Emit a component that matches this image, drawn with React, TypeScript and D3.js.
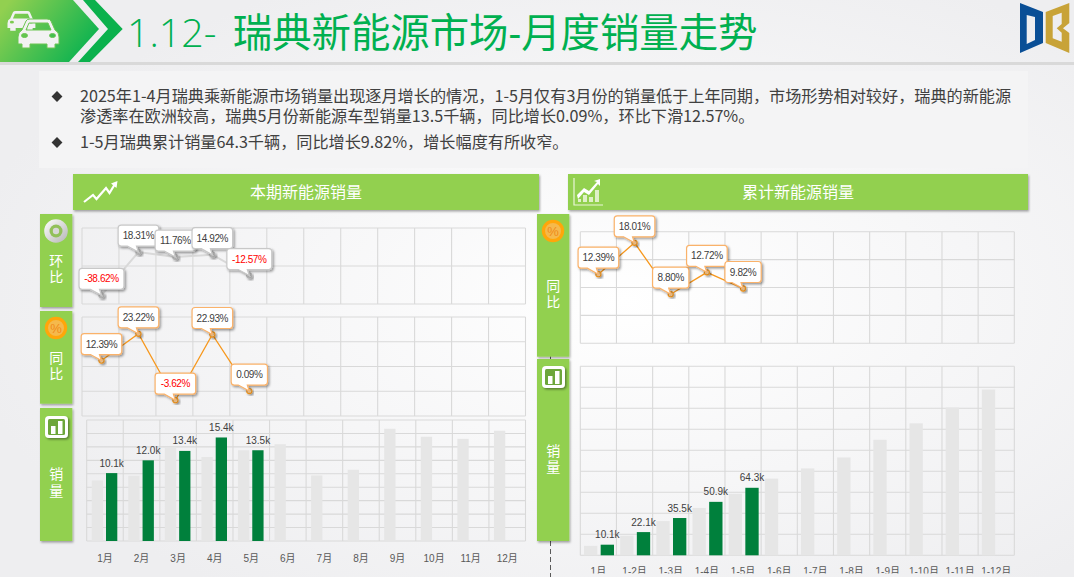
import React, { useRef, useEffect } from "react";
import * as d3 from "d3";

// monthly chart
const months = ["1月", "2月", "3月", "4月", "5月", "6月", "7月", "8月", "9月", "10月", "11月", "12月"];
const salesPrev = [9.0, 9.7, 13.9, 12.5, 13.5, 14.4, 9.75, 10.6, 16.7, 15.5, 15.2, 16.4];
const salesCurr = [10.1, 12.0, 13.4, 15.4, 13.5];
const momValues = [-38.62, 18.31, 11.76, 14.92, -12.57];
const yoyValues = [12.39, 23.22, -3.62, 22.93, 0.09];

// cumulative chart
const cumMonths = ["1月", "1-2月", "1-3月", "1-4月", "1-5月", "1-6月", "1-7月", "1-8月", "1-9月", "1-10月", "1-11月", "1-12月"];
const cumPrev = [9.0, 18.7, 32.6, 45.1, 58.6, 73.0, 82.7, 93.2, 110, 125.7, 140.7, 157.9];
const cumCurr = [10.1, 22.1, 35.5, 50.9, 64.3];
const cumYoyValues = [12.39, 18.01, 8.8, 12.72, 9.82];

const titleNumber = "1.12- ";
const titleText = "瑞典新能源市场-月度销量走势";
const bodyLines = [
  "2025年1-4月瑞典乘新能源市场销量出现逐月增长的情况，1-5月仅有3月份的销量低于上年同期，市场形势相对较好，瑞典的新能源",
  "渗透率在欧洲较高，瑞典5月份新能源车型销量13.5千辆，同比增长0.09%，环比下滑12.57%。",
  "1-5月瑞典累计销量64.3千辆，同比增长9.82%，增长幅度有所收窄。",
];

const FONT = "'Liberation Sans', 'Noto Sans CJK SC', sans-serif";
const CJK = "'Noto Sans CJK SC', sans-serif";
const GREEN = "#92d050";
const ORANGE = "#f7981d";
const GRID = "#d9d9d9";

type Sel = d3.Selection<any, any, any, any>;

function drawGrid(g: Sel, x: d3.ScaleBand<string>, y: d3.ScaleLinear<number, number>, count: number) {
  const [x0, x1] = x.range();
  const [y0, y1] = y.range();
  const grid = g.append("g").attr("stroke", GRID).attr("stroke-width", 1.1).attr("fill", "none");
  y.ticks(count).forEach((t) => {
    grid.append("line").attr("x1", x0).attr("x2", x1).attr("y1", y(t)).attr("y2", y(t));
  });
  x.domain().forEach((d) => {
    grid.append("line").attr("x1", x(d)!).attr("x2", x(d)!).attr("y1", y0).attr("y2", y1);
  });
  grid.append("line").attr("x1", x1).attr("x2", x1).attr("y1", y0).attr("y2", y1);
}

// rounded box with a leaning tail that ends on the point
function calloutPath(bx: number, by: number, w: number, h: number, tx: number, ty: number) {
  const r = 3;
  const p = d3.path();
  p.moveTo(bx + r, by);
  p.lineTo(bx + w - r, by);
  p.quadraticCurveTo(bx + w, by, bx + w, by + r);
  p.lineTo(bx + w, by + h - r);
  p.quadraticCurveTo(bx + w, by + h, bx + w - r, by + h);
  p.lineTo(tx - 2, by + h);
  p.lineTo(tx, ty);
  p.lineTo(tx - 11, by + h);
  p.lineTo(bx + r, by + h);
  p.quadraticCurveTo(bx, by + h, bx, by + h - r);
  p.lineTo(bx, by + r);
  p.quadraticCurveTo(bx, by, bx + r, by);
  p.closePath();
  return p.toString();
}

function drawRate(
  g: Sel,
  values: number[],
  x: d3.ScaleBand<string>,
  y: d3.ScaleLinear<number, number>,
  color: string,
  boxStroke: string,
  lineWidth: number,
  dx: number
) {
  const cats = x.domain();
  const px = (i: number) => x(cats[i])! + x.bandwidth() / 2 + dx;
  const line = d3.line<number>().x((_, i) => px(i)).y((d) => y(d));
  g.append("path").datum(values).attr("fill", "none").attr("stroke", color).attr("stroke-width", lineWidth).attr("d", line);
  values.forEach((v, i) => {
    g.append("circle").attr("cx", px(i)).attr("cy", y(v)).attr("r", 2.6)
      .attr("fill", boxStroke === ORANGE ? "#fbd9a8" : "#d0d0d0").attr("stroke", boxStroke === ORANGE ? ORANGE : "#bdbdbd").attr("stroke-width", 1.1)
      .attr("filter", "url(#softShadow)");
  });
  values.forEach((v, i) => {
    const label = `${v.toFixed(2)}%`;
    const w = 4.3 * label.length + 14.8;
    const h = 21;
    const bx = px(i) - w / 2;
    const by = y(v) - 6 - h;
    g.append("path").attr("d", calloutPath(bx, by, w, h, px(i), y(v)))
      .attr("fill", "#fff").attr("stroke", boxStroke === ORANGE ? "#fab26a" : boxStroke).attr("stroke-width", 1.2)
      .attr("filter", "url(#softShadow)");
    g.append("text").attr("x", bx + w / 2).attr("y", by + h / 2 + 3.6)
      .attr("text-anchor", "middle").attr("font-family", FONT).attr("font-size", 10)
      .attr("letter-spacing", -0.4)
      .attr("fill", v < 0 ? "#ff0000" : "#404040").text(label);
  });
}

function drawBars(
  g: Sel,
  x: d3.ScaleBand<string>,
  y: d3.ScaleLinear<number, number>,
  inner: d3.ScaleBand<string>,
  prev: number[],
  curr: number[],
  labelGap: number
) {
  const cats = x.domain();
  const base = y.range()[0];
  g.append("g").selectAll("rect").data(prev).join("rect")
    .attr("x", (_, i) => x(cats[i])! + inner("prev")!)
    .attr("y", (d) => y(d)).attr("width", inner.bandwidth())
    .attr("height", (d) => base - y(d)).attr("fill", "#e6e6e6");
  g.append("g").selectAll("rect").data(curr).join("rect")
    .attr("x", (_, i) => x(cats[i])! + inner("curr")!)
    .attr("y", (d) => y(d)).attr("width", inner.bandwidth())
    .attr("height", (d) => base - y(d)).attr("fill", "#00803c");
  g.append("g").selectAll("text").data(curr).join("text")
    .attr("x", (_, i) => x(cats[i])! + inner("curr")! + inner.bandwidth() / 2)
    .attr("y", (d) => y(d) - labelGap)
    .attr("text-anchor", "middle").attr("font-family", FONT).attr("font-size", 10)
    .attr("fill", "#404040").text((d) => `${d.toFixed(1)}k`);
}

function drawAxis(g: Sel, x: d3.ScaleBand<string>, y: number, clip?: string) {
  const axis = g.append("g").attr("transform", `translate(0,${y})`)
    .call(d3.axisBottom(x).tickSize(0).tickPadding(0));
  axis.select(".domain").remove();
  axis.selectAll("text").attr("font-family", FONT).attr("font-size", 10).attr("fill", "#595959");
  if (clip) axis.attr("clip-path", clip);
}

function tab(g: Sel, x: number, y0: number, y1: number, w: number, chars: string[], textY: number[]) {
  g.append("rect").attr("x", x).attr("y", y0).attr("width", w).attr("height", y1 - y0)
    .attr("fill", GREEN).attr("filter", "url(#barShadow)");
  chars.forEach((c, i) => {
    g.append("text").attr("x", x + w / 2).attr("y", textY[i] + 5).attr("text-anchor", "middle")
      .attr("font-family", CJK).attr("font-size", 14).attr("fill", "#fff").text(c);
  });
}

function percentIcon(g: Sel, cx: number, cy: number) {
  g.append("circle").attr("cx", cx).attr("cy", cy).attr("r", 9.6).attr("fill", "#f5b94c")
    .attr("stroke", "#ffa60a").attr("stroke-width", 3.2);
  g.append("text").attr("x", cx).attr("y", cy + 4.6).attr("text-anchor", "middle")
    .attr("font-family", FONT).attr("font-size", 13).attr("fill", "#f08a1a").text("%");
}

function barIcon(g: Sel, x: number, y: number) {
  g.append("rect").attr("x", x).attr("y", y).attr("width", 23).attr("height", 22).attr("rx", 4)
    .attr("fill", "#fff").attr("filter", "url(#softShadow)");
  g.append("rect").attr("x", x + 3).attr("y", y + 3).attr("width", 17).attr("height", 16).attr("rx", 1.5).attr("fill", "#6da63a");
  g.append("rect").attr("x", x + 6).attr("y", y + 10).attr("width", 4.5).attr("height", 8).attr("fill", "#fff");
  g.append("rect").attr("x", x + 13).attr("y", y + 5).attr("width", 4.5).attr("height", 13).attr("fill", "#fff");
}

export default function App() {
  const svgRef = useRef<SVGSVGElement>(null);

  useEffect(() => {
    if (!svgRef.current) return;
    const svg = d3.select(svgRef.current);
    svg.selectAll("*").remove();

    const defs = svg.append("defs");
    const bg = defs.append("radialGradient").attr("id", "bg").attr("cx", 0.58).attr("cy", 0.52).attr("r", 0.62);
    bg.append("stop").attr("offset", "0%").attr("stop-color", "#ffffff");
    bg.append("stop").attr("offset", "100%").attr("stop-color", "#eeeef0");
    const head = defs.append("linearGradient").attr("id", "head").attr("gradientUnits", "userSpaceOnUse")
      .attr("x1", 10).attr("y1", 0).attr("x2", 90).attr("y2", 62);
    head.append("stop").attr("offset", "0%").attr("stop-color", "#92d050");
    head.append("stop").attr("offset", "100%").attr("stop-color", "#00b050");
    const ring = defs.append("linearGradient").attr("id", "ring").attr("x1", 0).attr("y1", 0).attr("x2", 1).attr("y2", 1);
    ring.append("stop").attr("offset", "0%").attr("stop-color", "#ffffff");
    ring.append("stop").attr("offset", "100%").attr("stop-color", "#b5b5b5");
    const soft = defs.append("filter").attr("id", "softShadow").attr("x", "-30%").attr("y", "-30%").attr("width", "170%").attr("height", "170%");
    soft.append("feDropShadow").attr("dx", 1.5).attr("dy", 1.5).attr("stdDeviation", 1).attr("flood-color", "#000").attr("flood-opacity", 0.4);
    const barSh = defs.append("filter").attr("id", "barShadow").attr("x", "-5%").attr("y", "-5%").attr("width", "115%").attr("height", "115%");
    barSh.append("feDropShadow").attr("dx", 1).attr("dy", 1.5).attr("stdDeviation", 1).attr("flood-color", "#000").attr("flood-opacity", 0.35);
    defs.append("clipPath").attr("id", "cutLabels").append("rect").attr("x", 0).attr("y", -10).attr("width", 1074).attr("height", 15.5);

    svg.append("rect").attr("width", 1074).attr("height", 577).attr("fill", "url(#bg)");

    // header
    const headG = svg.append("g");
    headG.append("rect").attr("x", 0).attr("y", 62).attr("width", 1074).attr("height", 3).attr("fill", "#d9d9d9");
    headG.append("path").attr("d", "M0,0L73,0L99,29L69,62L0,62Z").attr("fill", "url(#head)");
    headG.append("path").attr("d", "M83,0L95,0L122.7,29L90,62L78,62L108,29Z").attr("fill", "#0bb14d");
    const carPath =
      "M4,11L8,2Q9,0 12,0H29Q32,0 33,2L37,11Q41,13 41,18V25H37V29H29V25H12V29H4V25H0V18Q0,13 4,11Z" +
      "M8,11H33L30,4H11ZM3.5,16.5A3,2 0 0 0 9.5,16.5A3,2 0 0 0 3.5,16.5ZM31.5,16.5A3,2 0 0 0 37.5,16.5A3,2 0 0 0 31.5,16.5Z";
    headG.append("path").attr("d", carPath).attr("transform", "translate(7.5,11) scale(0.68)")
      .attr("fill", "#f2f2f2").attr("fill-rule", "evenodd");
    headG.append("path").attr("d", carPath).attr("transform", "translate(18,19)")
      .attr("fill", "#f2f2f2").attr("fill-rule", "evenodd").attr("stroke", "#6cc552").attr("stroke-width", 1);
    const titleG = headG.append("text").attr("x", 127).attr("y", 47)
      .attr("font-family", "'Open Sans', 'Noto Sans CJK SC', sans-serif").attr("font-size", 39.4)
      .attr("word-spacing", 6).attr("fill", "#00b050");
    titleG.append("tspan").attr("font-weight", 300).text(titleNumber);
    titleG.append("tspan").attr("font-weight", 400).text(titleText);

    // logo
    headG.append("path").attr("fill", "#0a4f96").attr("fill-rule", "evenodd")
      .attr("d", "M1020,3L1043,12V43L1020,53ZM1026.7,15V44L1035,40V17Z");
    headG.append("path").attr("fill", "#c8a338").attr("fill-rule", "evenodd")
      .attr("d", "M1045.7,12L1069.3,3V23L1063,28.3L1069.3,33V53L1045.7,43ZM1052.7,16V38.3L1061.7,41.7V32.7L1056.7,28.3L1061.7,24V12.7Z");

    // text block
    svg.append("rect").attr("x", 39).attr("y", 71).attr("width", 989).attr("height", 97).attr("fill", "#f4f4f5");
    const symbol = d3.symbol().type(d3.symbolDiamond2).size(75);
    [96.5, 142.5].forEach((cy) => {
      svg.append("path").attr("d", symbol()).attr("transform", `translate(57,${cy})`).attr("fill", "#333");
    });
    [102, 122, 148].forEach((ty, i) => {
      svg.append("text").attr("x", 80).attr("y", ty).attr("font-family", CJK).attr("font-size", 16.15)
        .attr("fill", "#404040").text(bodyLines[i]);
    });

    // section bars
    [
      { x: 73, w: 466, label: "本期新能源销量", cx: 306 },
      { x: 568, w: 460, label: "累计新能源销量", cx: 798 },
    ].forEach((b) => {
      svg.append("rect").attr("x", b.x).attr("y", 174).attr("width", b.w).attr("height", 36)
        .attr("fill", GREEN).attr("filter", "url(#barShadow)");
      svg.append("text").attr("x", b.cx).attr("y", 198).attr("text-anchor", "middle")
        .attr("font-family", CJK).attr("font-size", 16).attr("fill", "#fff").text(b.label);
    });
    svg.append("path").attr("d", "M84,202L93,195L96.5,199L106,188L109.5,193L115,184")
      .attr("fill", "none").attr("stroke", "#fff").attr("stroke-width", 2.2);
    svg.append("path").attr("d", "M111,183.5L117.5,181L116.5,188Z").attr("fill", "#fff");
    svg.append("path").attr("d", "M574,178V205H603").attr("fill", "none").attr("stroke", "#e9f5d8").attr("stroke-width", 1.2);
    svg.append("path").attr("d", "M577,195L584,188L589,191L597,182L594,181L600,179V186L598,184L589,195L584,192L578,199Z").attr("fill", "#fff");
    svg.append("path").attr("d", "M578,202V199H581V202ZM583,202V195H587V202ZM589,202V197H593V202ZM595,202V190H599V202Z").attr("fill", "#dff0c8");

    // dashed divider
    svg.append("line").attr("x1", 550.5).attr("x2", 550.5).attr("y1", 541).attr("y2", 577)
      .attr("stroke", "#595959").attr("stroke-dasharray", "5 3");
    svg.append("line").attr("x1", 550.5).attr("x2", 550.5).attr("y1", 356).attr("y2", 359).attr("stroke", "#595959");

    // side tabs
    tab(svg, 40, 214, 307, 32.3, ["环", "比"], [261, 277]);
    tab(svg, 40, 311, 403.7, 32.3, ["同", "比"], [358, 374]);
    tab(svg, 40, 408, 541, 32.3, ["销", "量"], [474, 491]);
    tab(svg, 537, 214, 356.7, 32.3, ["同", "比"], [286, 302]);
    tab(svg, 537, 359, 541, 32.3, ["销", "量"], [451, 467]);
    svg.append("circle").attr("cx", 56).attr("cy", 231).attr("r", 11.8).attr("fill", "url(#ring)");
    svg.append("circle").attr("cx", 56).attr("cy", 231).attr("r", 6.5).attr("fill", "#92c05a");
    svg.append("circle").attr("cx", 56).attr("cy", 231).attr("r", 3.2).attr("fill", "#d8d8d8");
    percentIcon(svg, 56, 328);
    percentIcon(svg, 553, 231);
    barIcon(svg, 45, 416);
    barIcon(svg, 542, 366);

    // left column
    const xRate = d3.scaleBand<string>().domain(months).range([82, 525.5]);
    const xSales = d3.scaleBand<string>().domain(months).range([86.7, 525.5]);
    const yMom = d3.scaleLinear().domain([-50, 50]).range([304, 228]);
    const yYoy = d3.scaleLinear().domain([-10, 30]).range([416, 317]);
    const ySales = d3.scaleLinear().domain([0, 18]).range([541, 420]);
    const innerSales = d3.scaleBand<string>().domain(["prev", "curr"]).range([5, 30.6]).paddingInner(0.21);

    drawGrid(svg, xRate, yMom, 2);
    drawRate(svg, momValues, xRate, yMom, "#d9d9d9", "#c8c8c8", 2, 1);
    drawGrid(svg, xRate, yYoy, 4);
    drawRate(svg, yoyValues, xRate, yYoy, ORANGE, ORANGE, 1.3, 1);
    drawGrid(svg, xSales, ySales, 9);
    drawBars(svg, xSales, ySales, innerSales, salesPrev, salesCurr, 6.5);
    drawAxis(svg, xSales, 555);

    // right column
    const xCum = d3.scaleBand<string>().domain(cumMonths).range([580.3, 1014.3]);
    const yCumYoy = d3.scaleLinear().domain([0, 20]).range([343.3, 231.7]);
    const yCum = d3.scaleLinear().domain([0, 180]).range([555.3, 366.3]);
    const innerCum = d3.scaleBand<string>().domain(["prev", "curr"]).range([3.7, 33.7]).paddingInner(0.2);

    drawGrid(svg, xCum, yCumYoy, 4);
    drawRate(svg, cumYoyValues, xCum, yCumYoy, ORANGE, ORANGE, 1.3, 0);
    drawGrid(svg, xCum, yCum, 9);
    drawBars(svg, xCum, yCum, innerCum, cumPrev, cumCurr, 6.5);
    drawAxis(svg, xCum, 568, "url(#cutLabels)");
  }, []);

  return (
    <svg
      ref={svgRef}
      width={1074}
      height={577}
      viewBox="0 0 1074 577"
      style={{ position: "absolute", left: 0, top: 0, display: "block" }}
    />
  );
}
